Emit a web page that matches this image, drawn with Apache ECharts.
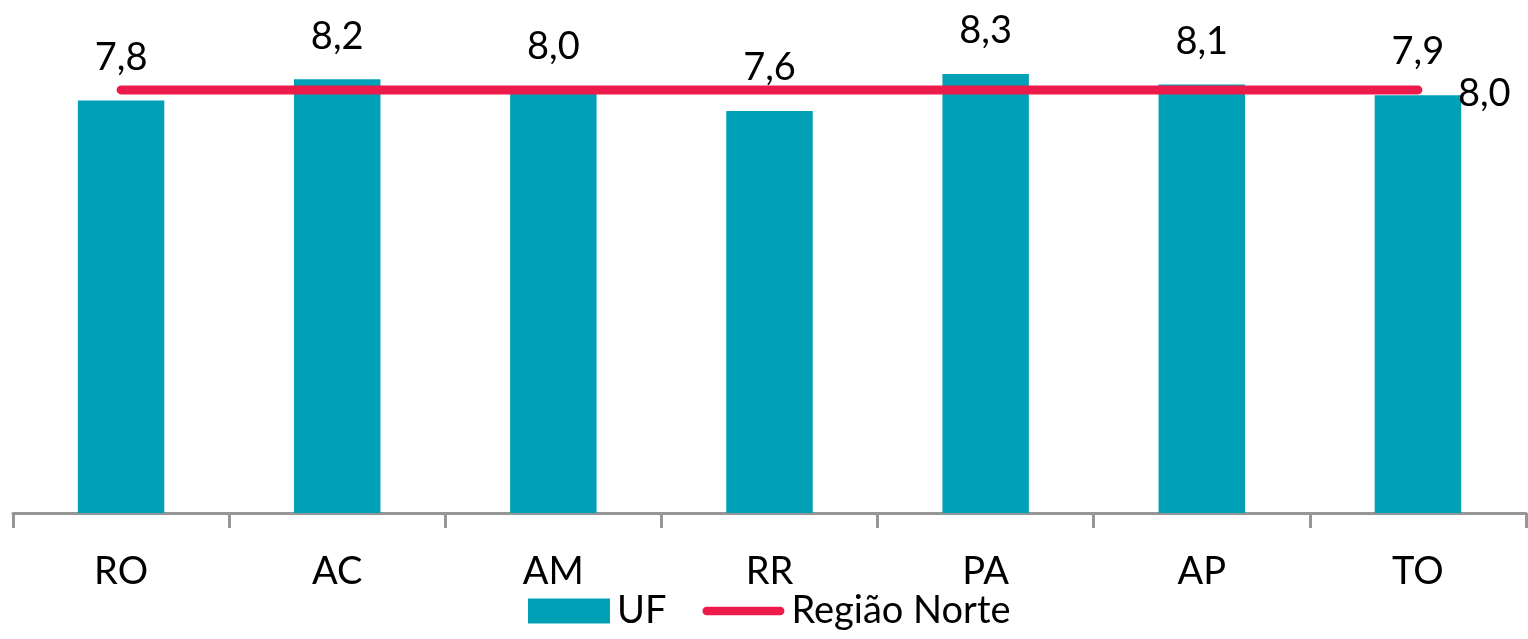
<!DOCTYPE html>
<html>
<head>
<meta charset="utf-8">
<script src="https://cdn.jsdelivr.net/npm/echarts@6/dist/echarts.min.js"></script>
<style>
  html, body { margin: 0; padding: 0; background: #ffffff; }
  #chart { width: 1528px; height: 639px; }
</style>
</head>
<body>
<div id="chart"></div>
<script>
// Estados da Região Norte
const categories = ['RO', 'AC', 'AM', 'RR', 'PA', 'AP', 'TO'];
// Valor por UF
const ufValues = [7.8, 8.2, 8.0, 7.6, 8.3, 8.1, 7.9];
// Média da Região Norte
const regiaoNorte = [8.0, 8.0, 8.0, 8.0, 8.0, 8.0, 8.0];

const FONT = 'Lato, "Open Sans", sans-serif';
const fmt = v => Number(v).toFixed(1).replace('.', ',');

// thick rounded stroke used as the legend marker of the line series
const LINE_ICON = 'path://M4.5,0 L83.5,0 A4.5,4.5 0 0 1 83.5,9 L4.5,9 A4.5,4.5 0 0 1 4.5,0 Z';

const chart = echarts.init(document.getElementById('chart'));

chart.setOption({
  animation: false,
  backgroundColor: '#ffffff',
  grid: { left: 13, right: 2, top: 37, bottom: 126 },
  legend: {
    bottom: 4,
    left: 523,
    itemWidth: 82,
    itemHeight: 25,
    itemGap: 36,
    symbolKeepAspect: true,
    textStyle: { fontFamily: FONT, fontSize: 38, color: '#000', padding: [0, 0, 0, 2] },
    data: [
      { name: 'UF', icon: 'rect' },
      { name: 'Região Norte', icon: LINE_ICON }
    ]
  },
  xAxis: {
    type: 'category',
    data: categories,
    axisLine: { lineStyle: { color: '#969696', width: 3 } },
    axisTick: { show: true, length: 15, lineStyle: { color: '#969696', width: 3 } },
    axisLabel: { margin: 40, fontFamily: FONT, fontSize: 38, color: '#000' }
  },
  yAxis: {
    type: 'value',
    min: 0,
    max: 9,
    show: false,
    splitLine: { show: false }
  },
  series: [
    {
      name: 'UF',
      type: 'bar',
      data: ufValues,
      barWidth: '40%',
      itemStyle: { color: '#00A0B6' },
      label: {
        show: true,
        position: 'top',
        distance: 24,
        fontFamily: FONT,
        fontSize: 38,
        color: '#000',
        formatter: p => fmt(p.value)
      }
    },
    {
      name: 'Região Norte',
      type: 'line',
      data: regiaoNorte,
      symbol: 'none',
      z: 3,
      lineStyle: { color: '#ED1B4C', width: 9, cap: 'round' },
      itemStyle: { color: '#ED1B4C' },
      endLabel: {
        show: true,
        distance: 40,
        offset: [0, 4],
        fontFamily: FONT,
        fontSize: 38,
        color: '#000',
        formatter: p => fmt(p.value)
      }
    }
  ]
});
</script>
</body>
</html>
